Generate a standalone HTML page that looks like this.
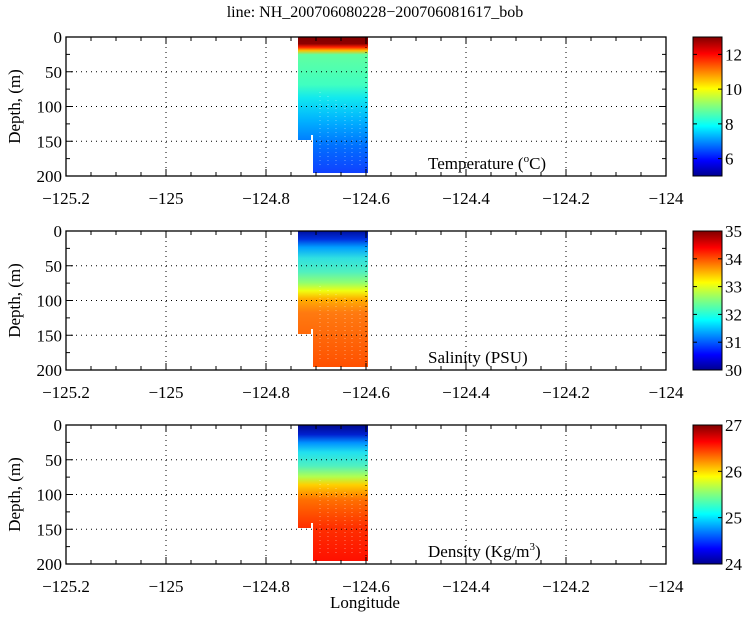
<!DOCTYPE html>
<html><head><meta charset="utf-8"><style>
html,body{margin:0;padding:0;background:#fff;}
svg text{font-family:"Liberation Serif",serif;fill:#000;}
</style></head><body>
<svg id="s" width="750" height="615" xmlns="http://www.w3.org/2000/svg" font-family="Liberation Serif, serif">
<defs>
<linearGradient id="jet" x1="0" y1="1" x2="0" y2="0">
<stop offset="0" stop-color="#00008f"/><stop offset="0.11" stop-color="#0000ff"/>
<stop offset="0.36" stop-color="#00ffff"/><stop offset="0.5" stop-color="#80ff80"/>
<stop offset="0.63" stop-color="#ffff00"/><stop offset="0.88" stop-color="#ff0000"/>
<stop offset="1" stop-color="#800000"/></linearGradient>
<linearGradient id="gT" x1="0" y1="0" x2="0" y2="1">
<stop offset="0" stop-color="#800000"/><stop offset="0.05" stop-color="#900000"/>
<stop offset="0.075" stop-color="#ff2000"/><stop offset="0.1" stop-color="#ffc000"/>
<stop offset="0.13" stop-color="#60ffa0"/><stop offset="0.35" stop-color="#40ffc0"/>
<stop offset="0.45" stop-color="#10e8f0"/><stop offset="0.62" stop-color="#00b0ff"/>
<stop offset="0.8" stop-color="#0070ff"/><stop offset="1" stop-color="#1040ff"/></linearGradient>
<linearGradient id="gS" x1="0" y1="0" x2="0" y2="1">
<stop offset="0" stop-color="#0010a0"/><stop offset="0.06" stop-color="#0030e0"/>
<stop offset="0.12" stop-color="#00a0ff"/><stop offset="0.2" stop-color="#30e0e0"/>
<stop offset="0.3" stop-color="#50f0c0"/><stop offset="0.38" stop-color="#90ff70"/>
<stop offset="0.44" stop-color="#f0ff10"/><stop offset="0.5" stop-color="#ffb000"/>
<stop offset="0.6" stop-color="#ff7a10"/><stop offset="1" stop-color="#ff5000"/></linearGradient>
<linearGradient id="gD" x1="0" y1="0" x2="0" y2="1">
<stop offset="0" stop-color="#000a90"/><stop offset="0.07" stop-color="#0020d0"/>
<stop offset="0.13" stop-color="#0090ff"/><stop offset="0.2" stop-color="#20e0f0"/>
<stop offset="0.3" stop-color="#50f0c0"/><stop offset="0.38" stop-color="#b0ff50"/>
<stop offset="0.44" stop-color="#ffd000"/><stop offset="0.55" stop-color="#ff7000"/>
<stop offset="0.75" stop-color="#ff3000"/><stop offset="1" stop-color="#ff1000"/></linearGradient>
</defs>
</svg>
<script>
var s=document.getElementById('s'),NS="http://www.w3.org/2000/svg";
function el(t,a,txt){var e=document.createElementNS(NS,t);for(var k in a)e.setAttribute(k,a[k]);if(t=='text')e.setAttribute('font-family','Liberation Serif, serif');if(txt!==undefined)e.textContent=txt;s.appendChild(e);return e;}
el('text',{x:375,y:17,'font-size':16,'text-anchor':'middle'},'line: NH_200706080228\u2212200706081617_bob');
el('text',{x:365,y:608,'font-size':17,'text-anchor':'middle'},'Longitude');
var L=66,R=666,tops=[37,231,425],H=139,DX=(R-L)/6;
var grads=['gT','gS','gD'];
var cb=[[5,13,[6,8,10,12]],[30,35,[30,31,32,33,34,35]],[24,27,[24,25,26,27]]];
var xl=['\u2212125.2','\u2212125','\u2212124.8','\u2212124.6','\u2212124.4','\u2212124.2','\u2212124'];
tops.forEach(function(T,i){
  var B=T+H;
  var f='url(#'+grads[i]+')';
  el('path',{d:'M298 '+T+' H368 V'+(B-3)+' H313 V'+(T+98)+' H311 V'+(T+103)+' H298 Z',fill:f});
  [320,328,336,345,352,360].forEach(function(x,j){el('line',{x1:x,y1:T+55+j*4,x2:x,y2:B-10,stroke:'#fff','stroke-width':0.8,'stroke-dasharray':'1 3',opacity:0.5});});
  for(var k=1;k<6;k++){var x=L+k*DX;el('line',{x1:x,y1:T,x2:x,y2:B,stroke:'#000','stroke-width':1,'stroke-dasharray':'1 4'});}
  for(var k=1;k<4;k++){var y=T+k*H/4;el('line',{x1:L,y1:y,x2:R,y2:y,stroke:'#000','stroke-width':1,'stroke-dasharray':'1 4'});}
  el('rect',{x:L,y:T,width:R-L,height:H,fill:'none',stroke:'#000','stroke-width':1.3});
  for(var k=0;k<=24;k++){var x=L+k*DX/4,len=(k%4==0)?7:4;
    el('line',{x1:x,y1:B,x2:x,y2:B-len,stroke:'#000'});el('line',{x1:x,y1:T,x2:x,y2:T+len,stroke:'#000'});}
  for(var k=0;k<=8;k++){var y=T+k*H/8,len=(k%2==0)?7:4;
    el('line',{x1:L,y1:y,x2:L+len,y2:y,stroke:'#000'});el('line',{x1:R,y1:y,x2:R-len,y2:y,stroke:'#000'});}
  xl.forEach(function(t,k){el('text',{x:L+k*DX,y:B+28,'font-size':17,'text-anchor':'middle'},t);});
  for(var k=0;k<=4;k++){el('text',{x:L-4,y:T+k*H/4+6,'font-size':17,'text-anchor':'end'},String(k*50));}
  el('text',{x:0,y:0,'font-size':17,'text-anchor':'middle',transform:'translate(20,'+(T+H/2)+') rotate(-90)'},'Depth, (m)');
  var t=el('text',{x:428,y:B-7,'font-size':17});
  function sup(str,after){var ts=document.createElementNS(NS,'tspan');ts.setAttribute('dy','-7');ts.setAttribute('font-size','11');ts.textContent=str;t.appendChild(ts);var t2=document.createElementNS(NS,'tspan');t2.setAttribute('dy','7');t2.textContent=after;t.appendChild(t2);}
  if(i==0){t.textContent='Temperature (';sup('o','C)');}
  else if(i==1){t.textContent='Salinity (PSU)';}
  else{t.textContent='Density (Kg/m';sup('3',')');}
  el('rect',{x:693,y:T,width:29,height:H,fill:'url(#jet)',stroke:'#000','stroke-width':1});
  var c=cb[i],mn=c[0],mx=c[1];
  c[2].forEach(function(v){var y=B-(v-mn)/(mx-mn)*H;
    el('line',{x1:722,y1:y,x2:718,y2:y,stroke:'#000'});el('line',{x1:693,y1:y,x2:697,y2:y,stroke:'#000'});
    el('text',{x:725,y:y+6,'font-size':17},String(v));});
});
</script>
</body></html>
